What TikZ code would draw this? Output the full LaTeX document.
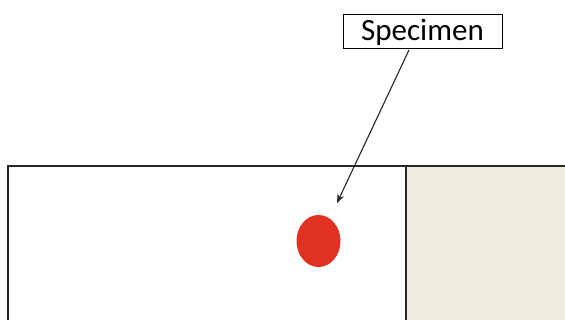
\documentclass[tikz,border=0pt]{standalone}
\usepackage{fontspec}
\setmainfont{Carlito}
\usetikzlibrary{shapes.geometric,arrows.meta}
\begin{document}
\begin{tikzpicture}[x=1pt,y=-1pt,
  frame/.style={draw=black!85,line width=1.3pt},
  label/.style={draw=black,line width=1pt,fill=white,minimum width=159pt,minimum height=34pt,inner sep=0pt,font=\fontsize{31}{33}\selectfont},
  pointer/.style={draw=black!85,line width=1.1pt,-{Stealth[length=9pt,width=7pt]}}]
\useasboundingbox (0,0) rectangle (565,320);
\fill[white] (0,0) rectangle (565,320);
\fill[fill={rgb,255:red,238;green,235;blue,223}] (406,166) rectangle (566,321);
\draw[frame] (8,322) -- (8,166) -- (566,166);
\draw[frame] (406,166) -- (406,322);
\node[fill={rgb,255:red,224;green,50;blue,34},ellipse,minimum width=44pt,minimum height=52pt,inner sep=0pt] (spec) at (318.5,241) {};
\node[label] (lbl) at (422.5,32) {Specimen};
\coordinate (start) at (409,50);
\coordinate (tip) at (337,203);
\draw[pointer] (start) -- (tip);
\end{tikzpicture}
\end{document}
